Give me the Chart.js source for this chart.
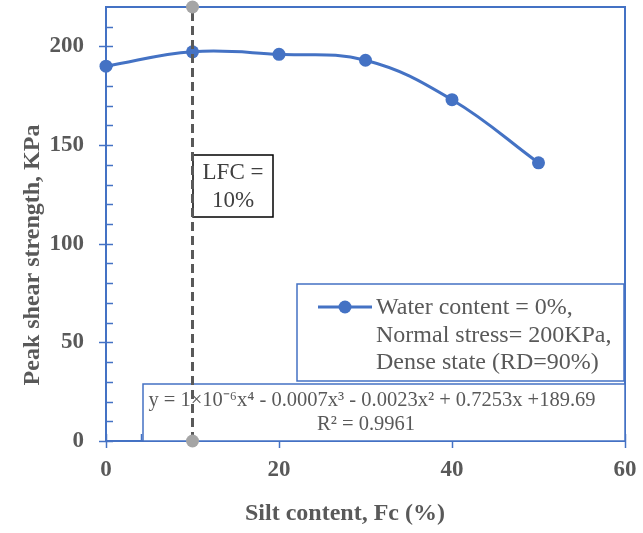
<!DOCTYPE html>
<html>
<head>
<meta charset="utf-8">
<script src="https://cdn.jsdelivr.net/npm/chart.js@4/dist/chart.umd.min.js"></script>
<style>
  html, body { margin: 0; padding: 0; background: #ffffff; }
  #wrap { width: 643px; height: 533px; }
</style>
</head>
<body>
<div id="wrap"><canvas id="c" width="643" height="533"></canvas></div>
<script>
// Silt content (%) and peak shear strength (kPa)
const siltContent = [0, 10, 20, 30, 40, 50];
const peakStrength = [190, 197.3, 196, 193, 173, 141];

// Limiting fines content marker line
const lfcX = [10, 10];
const lfcY = [0, 220];

const yTicks = [0, 50, 100, 150, 200];
const xTicks = [0, 20, 40, 60];

const seriesLabel = ["Water content = 0%,", "Normal stress= 200KPa,", "Dense state (RD=90%)"];
const trendLines = ["y = 1×10⁻⁶x⁴ - 0.0007x³ - 0.0023x² + 0.7253x +189.69", "R² = 0.9961"];
const lfcLines = ["LFC =", "10%"];
const xTitle = "Silt content, Fc (%)";
const yTitle = "Peak shear strength, KPa";

const BLUE = "#4472C4";
const GREY_TEXT = "#595959";
const SERIF = "'Liberation Serif', 'Times New Roman', serif";

// Frame, minor/major ticks, annotation boxes and titles
const decorations = {
  id: "decorations",
  beforeDatasetsDraw(chart) {
    const { ctx, chartArea: a, scales: { x, y } } = chart;
    ctx.save();
    // top / right frame
    ctx.strokeStyle = BLUE;
    ctx.lineWidth = 2;
    ctx.beginPath();
    ctx.moveTo(a.left, a.top);
    ctx.lineTo(a.right, a.top);
    ctx.lineTo(a.right, a.bottom);
    ctx.stroke();

    // y ticks
    ctx.lineWidth = 1.5;
    for (let v = 0; v <= 210; v += 10) {
      const py = Math.round(y.getPixelForValue(v)) + 0.5;
      const major = v % 50 === 0;
      ctx.beginPath();
      ctx.moveTo(major ? a.left - 7 : a.left, py);
      ctx.lineTo(a.left + 7, py);
      ctx.stroke();
    }
    // x ticks
    for (let v = 0; v <= 60; v += 4) {
      const px = Math.round(x.getPixelForValue(v)) + 0.5;
      const major = v % 20 === 0;
      ctx.beginPath();
      ctx.moveTo(px, major ? a.bottom + 7 : a.bottom);
      ctx.lineTo(px, a.bottom - 7);
      ctx.stroke();
    }

    // legend box
    ctx.fillStyle = "#ffffff";
    ctx.lineWidth = 1.5;
    ctx.strokeStyle = BLUE;
    ctx.fillRect(297, 284, 327, 97);
    ctx.strokeRect(297, 284, 327, 97);
    ctx.lineWidth = 3;
    ctx.beginPath();
    ctx.moveTo(318, 307);
    ctx.lineTo(372, 307);
    ctx.stroke();
    ctx.fillStyle = BLUE;
    ctx.beginPath();
    ctx.arc(345, 307, 6.5, 0, Math.PI * 2);
    ctx.fill();
    ctx.fillStyle = GREY_TEXT;
    ctx.font = "24px " + SERIF;
    ctx.textAlign = "left";
    ctx.textBaseline = "middle";
    seriesLabel.forEach((t, i) => ctx.fillText(t, 376, 308 + i * 27.5));

    // trendline equation box
    ctx.fillStyle = "#ffffff";
    ctx.lineWidth = 1.5;
    ctx.strokeStyle = BLUE;
    ctx.fillRect(143, 384, 482, 57);
    ctx.strokeRect(143, 384, 482, 57);
    ctx.fillStyle = GREY_TEXT;
    ctx.font = "20.5px " + SERIF;
    ctx.textAlign = "center";
    ctx.fillText(trendLines[0], 372, 401);
    ctx.fillText(trendLines[1], 366, 425);

    // LFC box
    ctx.fillStyle = "#ffffff";
    ctx.fillRect(193, 155, 80, 62);
    ctx.strokeStyle = "#000000";
    ctx.lineWidth = 1.5;
    ctx.strokeRect(193, 155, 80, 62);
    ctx.fillStyle = "#404040";
    ctx.font = "23px " + SERIF;
    ctx.fillText(lfcLines[0], 233, 173);
    ctx.fillText(lfcLines[1], 233, 201);

    // axis titles
    ctx.fillStyle = GREY_TEXT;
    ctx.font = "bold 24px " + SERIF;
    ctx.fillText(xTitle, 345, 514);
    ctx.translate(33, 255);
    ctx.rotate(-Math.PI / 2);
    ctx.fillText(yTitle, 0, 0);
    ctx.restore();
  }
};

const whiteBg = {
  id: "whiteBg",
  beforeDraw(chart) {
    const { ctx } = chart;
    ctx.save();
    ctx.fillStyle = "#ffffff";
    ctx.fillRect(0, 0, chart.width, chart.height);
    ctx.restore();
  }
};

// keep the plot area at fixed size: no extra label overhang padding
function noOverhang(s) {
  s.paddingTop = 0;
  s.paddingBottom = 0;
  s.paddingLeft = 0;
  s.paddingRight = 0;
}

new Chart(document.getElementById("c"), {
  type: "line",
  data: {
    datasets: [
      {
        label: seriesLabel.join(" "),
        data: siltContent.map((v, i) => ({ x: v, y: peakStrength[i] })),
        borderColor: BLUE,
        backgroundColor: BLUE,
        borderWidth: 3,
        pointRadius: 6.5,
        pointBackgroundColor: BLUE,
        pointBorderWidth: 0,
        tension: 0.4,
        clip: false,
        order: 2
      },
      {
        label: "LFC",
        data: lfcX.map((v, i) => ({ x: v, y: lfcY[i] })),
        borderColor: "#595959",
        borderWidth: 3,
        borderDash: [9, 5],
        pointRadius: 6.5,
        pointBackgroundColor: "#A5A5A5",
        pointBorderWidth: 0,
        clip: false,
        order: 1
      }
    ]
  },
  options: {
    responsive: false,
    animation: false,
    devicePixelRatio: 1,
    layout: { padding: { top: 7, right: 18, left: 0, bottom: 0 } },
    plugins: { legend: { display: false }, tooltip: { enabled: false } },
    scales: {
      x: {
        type: "linear",
        min: 0,
        max: 60,
        afterFit(s) { s.height = 92; noOverhang(s); },
        afterBuildTicks(s) { s.ticks = xTicks.map(v => ({ value: v })); },
        grid: { display: false, drawTicks: false },
        border: { display: true, color: BLUE, width: 2 },
        ticks: {
          padding: 15,
          color: GREY_TEXT,
          font: { family: SERIF, size: 23, weight: "bold" },
          maxRotation: 0
        }
      },
      y: {
        type: "linear",
        min: 0,
        max: 220,
        afterFit(s) { s.width = 106; noOverhang(s); },
        afterBuildTicks(s) { s.ticks = yTicks.map(v => ({ value: v })); },
        grid: { display: false, drawTicks: false },
        border: { display: true, color: BLUE, width: 2 },
        ticks: {
          padding: 22,
          color: GREY_TEXT,
          font: { family: SERIF, size: 23, weight: "bold" }
        }
      }
    }
  },
  plugins: [whiteBg, decorations]
});
</script>
</body>
</html>
